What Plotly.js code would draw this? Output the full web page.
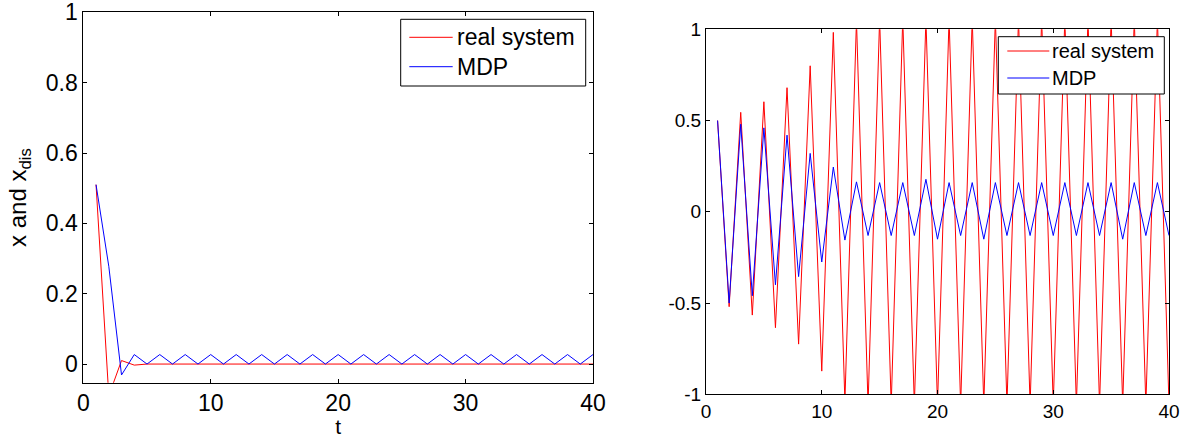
<!DOCTYPE html>
<html>
<head>
<meta charset="utf-8">
<script src="https://cdn.plot.ly/plotly-3.0.1.min.js"></script>
<style>
html,body{margin:0;padding:0;background:#fff;}
#chart{width:1184px;height:438px;}
</style>
</head>
<body>
<div id="chart"></div>
<script>
// time steps
var t = [1,2,3,4,5,6,7,8,9,10,11,12,13,14,15,16,17,18,19,20,21,22,23,24,25,26,27,28,29,30,31,32,33,34,35,36,37,38,39,40];

// left panel
var leftReal = [0.51,-0.09,0.01,-0.003,0,0,0,0,0,0,0,0,0,0,0,0,0,0,0,0,0,0,0,0,0,0,0,0,0,0,0,0,0,0,0,0,0,0,0,0];
var leftMDP  = [0.51,0.278,-0.031,0.027,0,0.027,0,0.027,0,0.027,0,0.027,0,0.027,0,0.027,0,0.027,0,0.027,0,0.027,0,0.027,0,0.027,0,0.027,0,0.027,0,0.027,0,0.027,0,0.027,0,0.027,0,0.027];

// right panel
var rightReal = [0.5,-0.52,0.545,-0.566,0.603,-0.635,0.68,-0.725,0.80,-0.873,0.983,-1.04,1.05,-1.06,1.06,-1.06,1.06,-1.06,1.06,-1.06,1.06,-1.06,1.06,-1.06,1.06,-1.06,1.06,-1.06,1.06,-1.06,1.06,-1.06,1.06,-1.06,1.06,-1.06,1.06,-1.06,1.06,-1.06];
var rightMDP  = [0.5,-0.5,0.48,-0.46,0.46,-0.40,0.42,-0.355,0.32,-0.275,0.245,-0.155,0.164,-0.13,0.16,-0.13,0.16,-0.13,0.178,-0.15,0.16,-0.13,0.16,-0.15,0.16,-0.13,0.16,-0.13,0.16,-0.13,0.16,-0.13,0.16,-0.13,0.16,-0.15,0.16,-0.13,0.16,-0.13];

// tick labels
var xTicks = [0,10,20,30,40];
var xTickText = ['0','10','20','30','40'];
var leftYTicks = [0,0.2,0.4,0.6,0.8,1];
var leftYTickText = ['0','0.2','0.4','0.6','0.8','1'];
var rightYTicks = [-1,-0.5,0,0.5,1];
var rightYTickText = ['-1','-0.5','0','0.5','1'];

var seriesNames = ['real system','MDP'];
var RED = '#ff0000', BLUE = '#0000ff';
var FONT = 'Liberation Sans, Arial, sans-serif';
var W = 1184, H = 438;

var traces = [
  {x:t, y:leftReal, xaxis:'x', yaxis:'y', mode:'lines', name:seriesNames[0], line:{color:RED,width:1}},
  {x:t, y:leftMDP,  xaxis:'x', yaxis:'y', mode:'lines', name:seriesNames[1], line:{color:BLUE,width:1}},
  {x:t, y:rightReal, xaxis:'x2', yaxis:'y2', mode:'lines', name:seriesNames[0], line:{color:RED,width:1}},
  {x:t, y:rightMDP,  xaxis:'x2', yaxis:'y2', mode:'lines', name:seriesNames[1], line:{color:BLUE,width:1}}
];

function ax(extra){
  var base = {showline:true, linecolor:'#000', linewidth:1, mirror:'ticks', ticks:'inside', ticklen:4,
    tickcolor:'#000', showgrid:false, zeroline:false, automargin:false, ticklabeloverflow:'allow'};
  for (var k in extra) base[k]=extra[k];
  return base;
}

// legend boxes drawn in paper coordinates (pixel geometry converted)
function px(x){return x/W;}
function py(y){return 1-y/H;}
var shapes = [], annotations = [];
function legendBox(x0,y0,x1,y1,lineX0,lineX1,rowsY,textX,fs){
  shapes.push({type:'rect', xref:'paper', yref:'paper', x0:px(x0), x1:px(x1), y0:py(y1), y1:py(y0),
    line:{color:'#000',width:1}, fillcolor:'#fff', layer:'above'});
  var cols=[RED,BLUE];
  for (var i=0;i<2;i++){
    shapes.push({type:'line', xref:'paper', yref:'paper', x0:px(lineX0), x1:px(lineX1), y0:py(rowsY[i]), y1:py(rowsY[i]),
      line:{color:cols[i],width:1}, layer:'above'});
    annotations.push({xref:'paper', yref:'paper', x:px(textX), y:py(rowsY[i]), xanchor:'left', yanchor:'middle',
      text:seriesNames[i], showarrow:false, font:{size:fs, family:FONT, color:'#000'}});
  }
}
legendBox(400.7,19.3,585.7,86, 409.3,452.7, [37.3,66.7], 455, 23);
legendBox(998.3,36.7,1164.3,94, 1007.3,1049.3, [51,78], 1050, 20);

var layout = {
  width:W, height:H,
  margin:{l:0,r:0,t:0,b:0},
  paper_bgcolor:'#fff', plot_bgcolor:'#fff',
  font:{family:FONT, color:'#000'},
  showlegend:false,
  xaxis: ax({domain:[83.3/W, 593/W], range:[0,40], tickvals:xTicks, ticktext:xTickText,
    tickfont:{size:23}, title:{text:'t', font:{size:21}, standoff:7}, anchor:'y'}),
  yaxis: ax({domain:[1-382.7/H, 1-12.3/H], range:[-0.053,1], tickvals:leftYTicks, ticktext:leftYTickText,
    tickfont:{size:23}, title:{text:'x and x<sub>dis</sub>', font:{size:24}, standoff:12}, anchor:'x'}),
  xaxis2: ax({domain:[706/W, 1169/W], range:[0,40], tickvals:xTicks, ticktext:xTickText,
    tickfont:{size:19}, anchor:'y2'}),
  yaxis2: ax({domain:[1-394.3/H, 1-29.3/H], range:[-1,1], tickvals:rightYTicks, ticktext:rightYTickText,
    tickfont:{size:19}, anchor:'x2'}),
  shapes: shapes,
  annotations: annotations
};

Plotly.newPlot('chart', traces, layout, {staticPlot:true, displayModeBar:false});
</script>
</body>
</html>
